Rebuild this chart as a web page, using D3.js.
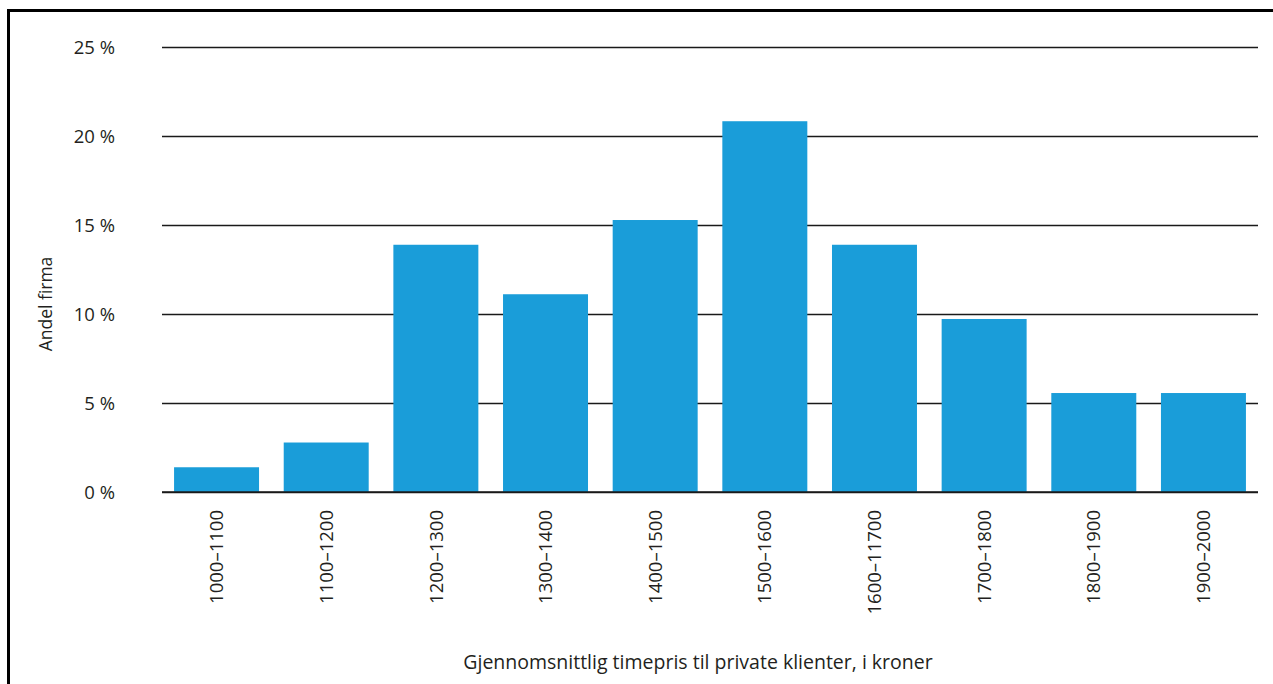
<!DOCTYPE html>
<html>
<head>
<meta charset="utf-8">
<script src="https://cdn.jsdelivr.net/npm/d3@7"></script>
<style>
  html, body { margin: 0; padding: 0; background: #fff; }
  svg { display: block; }
  text { font-family: "Open Sans", "Noto Sans", sans-serif; fill: #231f20; }
</style>
</head>
<body>
<script>
// Price bands (NOK per hour) and share of firms in each band (%)
const categories = ["1000–1100", "1100–1200", "1200–1300", "1300–1400", "1400–1500",
                    "1500–1600", "1600–11700", "1700–1800", "1800–1900", "1900–2000"];
const shares = [1.39, 2.78, 13.89, 11.11, 15.28, 20.83, 13.89, 9.72, 5.56, 5.56];
const yTicks = [0, 5, 10, 15, 20, 25];
const yTitle = "Andel firma";
const xTitle = "Gjennomsnittlig timepris til private klienter, i kroner";

const W = 1273, H = 684;
const plot = { left: 162, right: 1258, top: 47, bottom: 492 };

const svg = d3.select("body").append("svg").attr("width", W).attr("height", H);

// Outer frame (open on right and bottom)
svg.append("path")
  .attr("d", `M8.5,${H + 5} V10.5 H${W + 5}`)
  .attr("fill", "none").attr("stroke", "#000").attr("stroke-width", 3);

const x = d3.scaleBand().domain(categories)
  .range([plot.left, plot.right]).paddingInner(0.225).paddingOuter(0.11);
const y = d3.scaleLinear().domain([0, 25]).range([plot.bottom, plot.top]);

// Horizontal gridlines with y tick labels
const yAxis = d3.axisLeft(y).tickValues(yTicks)
  .tickSize(-(plot.right - plot.left)).tickFormat(d => d + " %");
const gy = svg.append("g").attr("transform", `translate(${plot.left},0)`).call(yAxis);
gy.select(".domain").remove();
gy.selectAll(".tick line").attr("stroke", "#1a1a1a").attr("stroke-width", 1.3);
gy.selectAll(".tick text").attr("x", -47).attr("dy", "0.34em")
  .style("font-size", "18.5px").attr("fill", "#231f20");

// Bars
svg.append("g").selectAll("rect").data(categories).join("rect")
  .attr("x", d => x(d))
  .attr("width", x.bandwidth())
  .attr("y", (d, i) => y(shares[i]))
  .attr("height", (d, i) => y(0) - y(shares[i]))
  .attr("fill", "#1a9dd9");

// Baseline
svg.append("line")
  .attr("x1", plot.left).attr("x2", plot.right)
  .attr("y1", y(0)).attr("y2", y(0))
  .attr("stroke", "#1a1a1a").attr("stroke-width", 1.3);

// Rotated category labels
const xAxis = d3.axisBottom(x).tickSize(0);
const gx = svg.append("g").attr("transform", `translate(0,${plot.bottom})`).call(xAxis);
gx.select(".domain").remove();
gx.selectAll(".tick text")
  .attr("transform", "rotate(-90)")
  .attr("x", -18).attr("y", 0).attr("dy", "0.36em")
  .attr("text-anchor", "end")
  .style("font-size", "18.5px").attr("fill", "#231f20");

// Axis titles
svg.append("text")
  .attr("transform", "translate(52,304) rotate(-90)")
  .attr("text-anchor", "middle")
  .style("font-size", "17.5px")
  .text(yTitle);

svg.append("text")
  .attr("x", 698).attr("y", 669)
  .attr("text-anchor", "middle")
  .style("font-size", "19.5px")
  .text(xTitle);
</script>
</body>
</html>
